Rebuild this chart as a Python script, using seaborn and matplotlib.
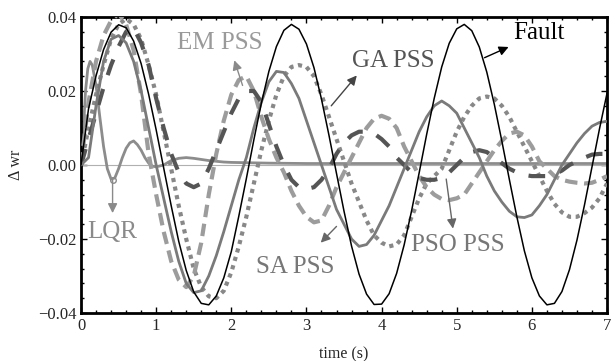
import numpy as np
import pandas as pd
import matplotlib
matplotlib.use("Agg")
import matplotlib.pyplot as plt
import seaborn as sns
from matplotlib.ticker import MultipleLocator, FixedLocator, FixedFormatter

# ---- data ----
time = np.round(np.linspace(0, 7, 71), 2)

fault = [0.0, 0.0152, 0.0241, 0.0312, 0.0359, 0.0379, 0.0371, 0.0335, 0.0274, 0.0191,
         0.0095, -0.0008, -0.0110, -0.0206, -0.0285, -0.0343, -0.0374, -0.0378, -0.0354, -0.0305,
         -0.0234, -0.0138, -0.0037, 0.0068, 0.0167, 0.0253, 0.0320, 0.0364, 0.0380, 0.0367,
         0.0327, 0.0263, 0.0178, 0.0080, -0.0023, -0.0125, -0.0219, -0.0295, -0.0349, -0.0377,
         -0.0376, -0.0348, -0.0293, -0.0216, -0.0123, -0.0021, 0.0083, 0.0180, 0.0265, 0.0329,
         0.0368, 0.0380, 0.0363, 0.0319, 0.0251, 0.0164, 0.0065, -0.0039, -0.0140, -0.0232,
         -0.0305, -0.0354, -0.0378, -0.0374, -0.0342, -0.0283, -0.0203, -0.0108, -0.0005, 0.0098,
         0.0194]

sa_pss = [0.0, 0.002, 0.016, 0.028, 0.034, 0.035, 0.033, 0.028, 0.020, 0.010,
          0.000, -0.009, -0.018, -0.026, -0.032, -0.0345, -0.034, -0.030, -0.0245, -0.018,
          -0.011, -0.004, 0.002, 0.010, 0.017, 0.0225, 0.0253, 0.025, 0.022, 0.018,
          0.012, 0.006, 0.000, -0.006, -0.012, -0.016, -0.020, -0.022, -0.0215, -0.019,
          -0.015, -0.011, -0.006, -0.001, 0.004, 0.009, 0.013, 0.016, 0.0173, 0.016,
          0.014, 0.010, 0.006, 0.002, -0.003, -0.007, -0.010, -0.0125, -0.014, -0.0142,
          -0.0135, -0.011, -0.008, -0.004, 0.000, 0.003, 0.006, 0.0085, 0.0105, 0.0115,
          0.0118]

em_pss = [0.0, 0.017, 0.028, 0.035, 0.039, 0.041, 0.038, 0.031, 0.019, 0.003,
          -0.008, -0.018, -0.026, -0.031, -0.033, -0.030, -0.021, -0.008, 0.003, 0.012,
          0.019, 0.023, 0.024, 0.020, 0.013, 0.007, 0.002, -0.002, -0.007, -0.011,
          -0.014, -0.0155, -0.015, -0.011, -0.006, -0.002, 0.002, 0.006, 0.010, 0.0125,
          0.0133, 0.0125, 0.010, 0.005, 0.001, -0.003, -0.006, -0.008, -0.0092, -0.0095,
          -0.009, -0.008, -0.005, -0.002, 0.001, 0.004, 0.0065, 0.0085, 0.009, 0.008,
          0.005, 0.001, -0.001, -0.003, -0.004, -0.0045, -0.0048, -0.005, -0.0048, -0.004,
          -0.003]

ga_pss = [0.0, 0.007, 0.014, 0.021, 0.027, 0.032, 0.036, 0.037, 0.033, 0.027,
          0.018, 0.010, 0.003, -0.002, -0.005, -0.006, -0.005, -0.001, 0.004, 0.009,
          0.014, 0.018, 0.020, 0.020, 0.017, 0.011, 0.005, 0.000, -0.004, -0.006,
          -0.0065, -0.006, -0.004, -0.001, 0.003, 0.006, 0.008, 0.009, 0.009, 0.0085,
          0.007, 0.005, 0.002, 0.000, -0.002, -0.0035, -0.004, -0.004, -0.0035, -0.002,
          0.000, 0.002, 0.0035, 0.004, 0.0035, 0.002, 0.0005, -0.001, -0.002, -0.0027,
          -0.003, -0.003, -0.003, -0.0025, -0.0015, 0.000, 0.001, 0.002, 0.0028, 0.003,
          0.003]

pso_pss = [0.0, 0.010, 0.019, 0.027, 0.034, 0.038, 0.0395, 0.038, 0.034, 0.027,
           0.019, 0.009, -0.001, -0.011, -0.020, -0.028, -0.033, -0.0355, -0.036, -0.034,
           -0.029, -0.022, -0.014, -0.005, 0.004, 0.012, 0.019, 0.024, 0.0265, 0.027,
           0.0265, 0.024, 0.019, 0.013, 0.007, 0.001, -0.005, -0.010, -0.015, -0.019,
           -0.021, -0.022, -0.0215, -0.019, -0.014, -0.009, -0.005, -0.003, -0.001, 0.004,
           0.009, 0.013, 0.016, 0.018, 0.0185, 0.018, 0.016, 0.013, 0.009, 0.005,
           0.001, -0.003, -0.007, -0.0105, -0.0128, -0.014, -0.014, -0.013, -0.0115, -0.009,
           -0.005]

time_lqr = [0.0, 0.03, 0.06, 0.09, 0.12, 0.15, 0.2, 0.25, 0.3, 0.35, 0.4, 0.45, 0.5,
            0.55, 0.6, 0.65, 0.7, 0.75, 0.8, 0.85, 0.9, 0.95, 1.0, 1.1, 1.2, 1.3, 1.4,
            1.5, 1.6, 1.7, 1.8, 1.9, 2.0, 2.5, 3.0, 4.0, 5.0, 6.0, 7.0]
lqr = [0.0, 0.009, 0.020, 0.026, 0.028, 0.027, 0.0215, 0.013, 0.005, -0.001, -0.0038, -0.0035, -0.001,
       0.002, 0.0045, 0.006, 0.0065, 0.0055, 0.004, 0.002, 0.0005, -0.0003, -0.0005, 0.0, 0.0012, 0.0018, 0.002,
       0.0018, 0.0015, 0.0012, 0.001, 0.0008, 0.0007, 0.0005, 0.0004, 0.0004, 0.0004, 0.0004, 0.0004]

x_ticks = [0, 1, 2, 3, 4, 5, 6, 7]
y_ticks = [-0.04, -0.02, 0.0, 0.02, 0.04]
y_tick_labels = ["\u22120.04", "\u22120.02", "0.00", "0.02", "0.04"]

# ---- style ----
sns.set_style("ticks")
plt.rcParams["font.family"] = ["Liberation Serif", "DejaVu Serif"]
plt.rcParams["mathtext.fontset"] = "stix"

fig = plt.figure(figsize=(6.11, 3.61), dpi=100)
ax = fig.add_axes([0.1326, 0.133, 0.8609, 0.8199])

ax.axhline(0, color="#b0b0b0", lw=0.8, zorder=1)

df_lqr = pd.DataFrame({"t": time_lqr, "v": lqr})
sns.lineplot(data=df_lqr, x="t", y="v", ax=ax, color="#8c8c8c", lw=2.0, zorder=2)

df = pd.DataFrame({"t": time, "fault": fault, "sa": sa_pss, "em": em_pss,
                   "ga": ga_pss, "pso": pso_pss})

sns.lineplot(data=df, x="t", y="pso", ax=ax, color="#888888", lw=3.0,
             linestyle=(0, (1, 1.1)), zorder=3)
sns.lineplot(data=df, x="t", y="em", ax=ax, color="#9c9c9c", lw=3.0,
             linestyle=(0, (3, 1.6)), zorder=4)
sns.lineplot(data=df, x="t", y="ga", ax=ax, color="#555555", lw=3.0,
             linestyle=(0, (4, 3.5)), zorder=5)
sns.lineplot(data=df, x="t", y="sa", ax=ax, color="#7a7a7a", lw=2.0, zorder=6)
sns.lineplot(data=df, x="t", y="fault", ax=ax, color="black", lw=1.1, zorder=7)

ax.set_xlim(0, 7)
ax.set_ylim(-0.04, 0.04)
ax.xaxis.set_major_locator(FixedLocator(x_ticks))
ax.yaxis.set_major_locator(FixedLocator(y_ticks))
ax.yaxis.set_major_formatter(FixedFormatter(y_tick_labels))
ax.xaxis.set_minor_locator(MultipleLocator(0.2))
ax.yaxis.set_minor_locator(MultipleLocator(0.004))
ax.tick_params(which="both", direction="in", top=True, right=True, labelsize=12,
               width=1.0, color="black")
ax.tick_params(which="major", length=4)
ax.tick_params(which="minor", length=2)
for s in ax.spines.values():
    s.set_linewidth(2.0)
    s.set_color("black")

ax.set_xlabel("time (s)", fontsize=11.5, labelpad=9)
ax.set_ylabel("\u0394 wr", fontsize=11.5, labelpad=10)

# ---- annotations ----
fs = 18
def ann(xy, xytext, color):
    ax.annotate("", xy=xy, xytext=xytext,
                arrowprops=dict(arrowstyle="-|>", color=color, lw=1.0,
                                mutation_scale=14, shrinkA=0, shrinkB=0), zorder=10)

ax.text(6.1, 0.0357, "Fault", fontsize=fs, color="black", ha="center", va="center", zorder=10)
ann((5.69, 0.0319), (5.37, 0.0290), "black")

ax.text(4.16, 0.0280, "GA PSS", fontsize=fs, color="#555555", ha="center", va="center", zorder=10)
ann((3.67, 0.0242), (3.33, 0.0160), "#444444")

ax.text(1.84, 0.0329, "EM PSS", fontsize=fs, color="#9a9a9a", ha="center", va="center", zorder=10)
ann((2.04, 0.0283), (2.15, 0.0215), "#8a8a8a")

ax.text(2.85, -0.0275, "SA PSS", fontsize=fs, color="#777777", ha="center", va="center", zorder=10)
ann((3.19, -0.0210), (3.40, -0.0166), "#666666")

ax.text(5.02, -0.0215, "PSO PSS", fontsize=fs, color="#777777", ha="center", va="center", zorder=10)
ann((4.95, -0.0172), (4.86, -0.0038), "#666666")

ax.text(0.42, -0.0182, "LQR", fontsize=fs, color="#8a8a8a", ha="center", va="center", zorder=10)
ann((0.42, -0.0130), (0.42, -0.0040), "#8a8a8a")
ax.plot([0.42], [-0.0040], marker="o", ms=4, mfc="none", mec="#8a8a8a", zorder=10)

fig.savefig("out.png", dpi=100)
